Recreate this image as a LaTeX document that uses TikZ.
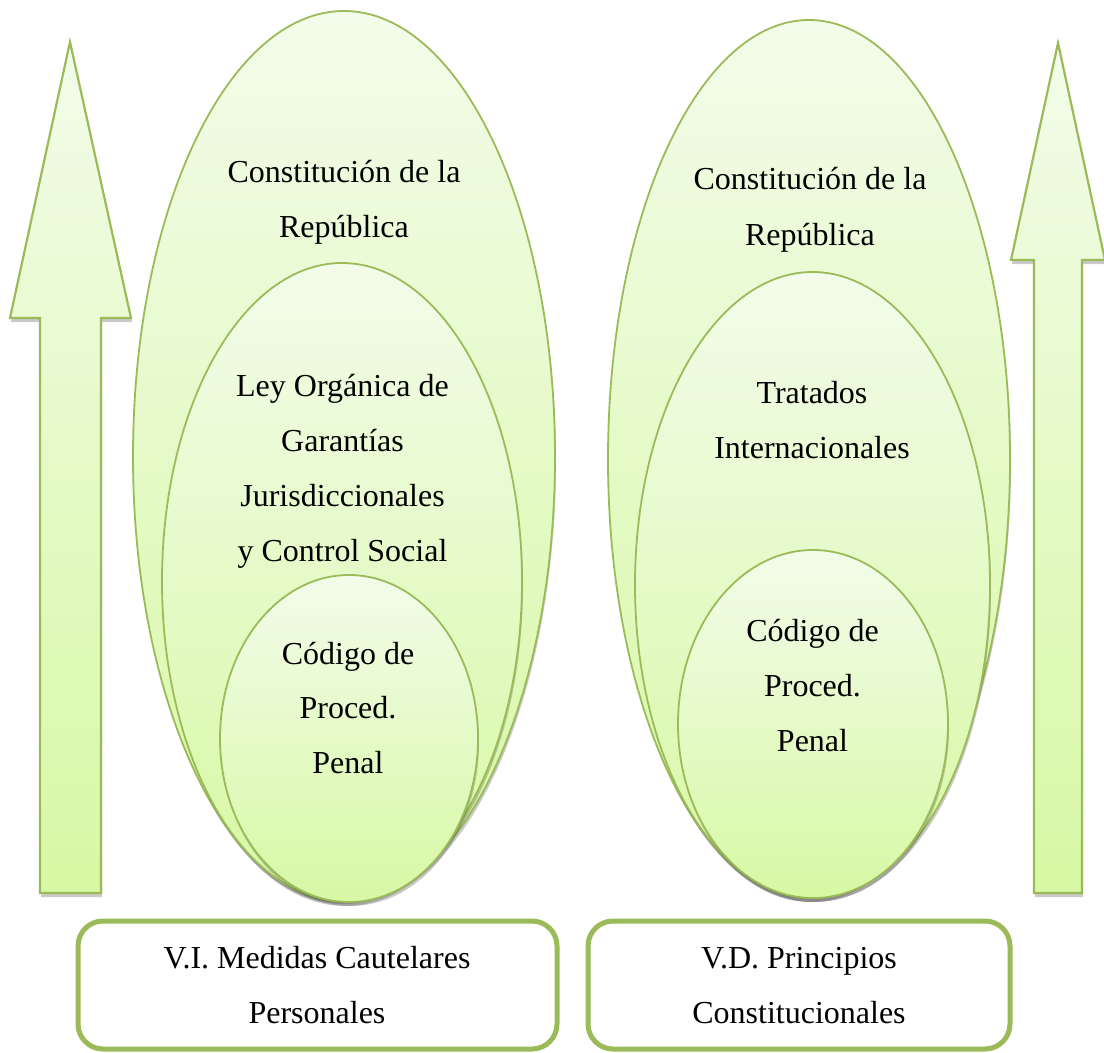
\documentclass[tikz,border=0pt]{standalone}
\usepackage{fontspec}
\setmainfont{Liberation Serif}
\usetikzlibrary{shadows}
\definecolor{gline}{RGB}{155,187,89}
\definecolor{gtop}{RGB}{242,252,234}
\definecolor{gbot}{RGB}{216,248,164}
\begin{document}
\begin{tikzpicture}[x=1pt,y=-1pt,
  shd/.style={drop shadow={shadow xshift=1pt,shadow yshift=-4pt,opacity=0.3,fill=black!70}},
  lvl/.style={draw=gline,line width=1.8pt,top color=gtop,bottom color=gbot,shd},
  arr/.style={draw=gline,line width=2.2pt,line join=miter,top color=gtop,bottom color=gbot,shd},
  txt/.style={anchor=base,inner sep=0pt,font=\fontsize{32}{38}\selectfont},
  frame/.style={draw=gline,line width=5pt,rounded corners=25pt,fill=white,inner sep=0pt}]
\useasboundingbox (0,0) rectangle (1104,1053);
% arrows
\path[arr] (70,42) -- (131,318) -- (101,318) -- (101,893) -- (40,893) -- (40,318) -- (10,318) -- cycle;
\path[arr] (1058,43) -- (1105,260) -- (1082,260) -- (1082,893) -- (1034,893) -- (1034,260) -- (1011,260) -- cycle;
% left ellipses
\path[lvl] (344,456.5) ellipse [x radius=211,y radius=445.5];
\path[lvl] (342,581.5) ellipse [x radius=180,y radius=318.5];
\path[lvl] (349,738.5) ellipse [x radius=129,y radius=163.5];
% right ellipses
\path[lvl] (809,459) ellipse [x radius=201,y radius=439];
\path[lvl] (812.5,585) ellipse [x radius=177.5,y radius=313];
\path[lvl] (813,724) ellipse [x radius=135,y radius=174];
% left texts
\node[txt] (lo1) at (344,182) {Constitución de la};
\node[txt] (lo2) at (344,237) {República};
\node[txt] (lm1) at (342.5,396) {Ley Orgánica de};
\node[txt] (lm2) at (342.5,451) {Garantías};
\node[txt] (lm3) at (342.5,506) {Jurisdiccionales};
\node[txt] (lm4) at (342.5,561) {y Control Social};
\node[txt] (li1) at (348,664) {Código de};
\node[txt] (li2) at (348,718) {Proced.};
\node[txt] (li3) at (348,773) {Penal};
% right texts
\node[txt] (ro1) at (810,189) {Constitución de la};
\node[txt] (ro2) at (810,245) {República};
\node[txt] (rm1) at (812,403) {Tratados};
\node[txt] (rm2) at (812,458) {Internacionales};
\node[txt] (ri1) at (812.5,641) {Código de};
\node[txt] (ri2) at (812.5,696) {Proced.};
\node[txt] (ri3) at (812.5,751) {Penal};
% boxes
\node[frame,minimum width=479pt,minimum height=128pt] (vi) at (317.5,985) {};
\node[frame,minimum width=422pt,minimum height=128pt] (vd) at (799,985) {};
\node[txt] (vi1) at (317,968) {V.I. Medidas Cautelares};
\node[txt] (vi2) at (317,1023) {Personales};
\node[txt] (vd1) at (799,968) {V.D. Principios};
\node[txt] (vd2) at (799,1023) {Constitucionales};
\end{tikzpicture}
\end{document}
